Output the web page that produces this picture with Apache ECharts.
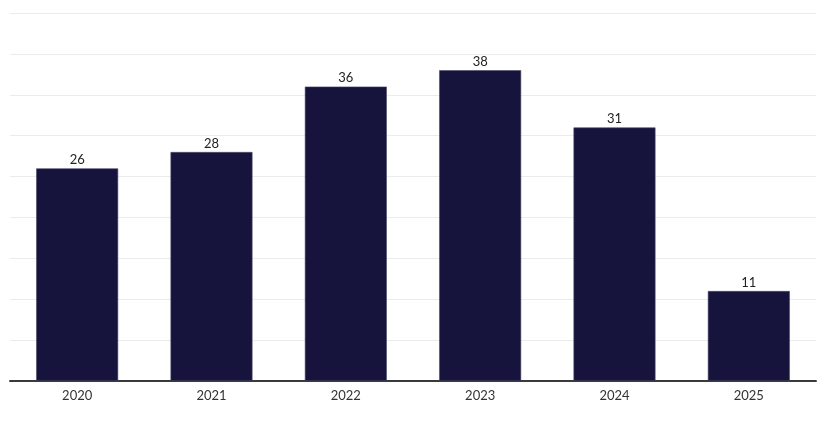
<!DOCTYPE html>
<html><head><meta charset="utf-8">
<script src="https://cdn.jsdelivr.net/npm/echarts@6/dist/echarts.min.js"></script>
<style>html,body{margin:0;padding:0;background:#fff}#c{width:830px;height:428px}</style>
</head><body><div id="c"></div>
<script>
const categories = ['2020','2021','2022','2023','2024','2025'];
const values = [26, 28, 36, 38, 31, 11];
const chart = echarts.init(document.getElementById('c'), null, {renderer:'canvas'});
chart.setOption({
  animation:false,
  grid:{left:10,right:14,top:13,bottom:47,containLabel:false},
  xAxis:{type:'category',data:categories,
    axisLine:{lineStyle:{color:'#3a3a3a',width:2}},
    axisTick:{show:false},
    axisLabel:{color:'#333',fontSize:13,fontFamily:'Lato',margin:8}},
  yAxis:{type:'value',min:0,max:45,interval:5,
    axisLabel:{show:false},axisLine:{show:false},axisTick:{show:false},
    splitLine:{lineStyle:{color:'#ebebeb',width:1}}},
  series:[{type:'bar',data:values,barWidth:'61%',
    itemStyle:{color:'#16143d',borderColor:'#4a4866',borderWidth:0.6},
    label:{show:true,position:'top',color:'#222',fontSize:13,fontFamily:'Lato',distance:2}}]
});
</script></body></html>
